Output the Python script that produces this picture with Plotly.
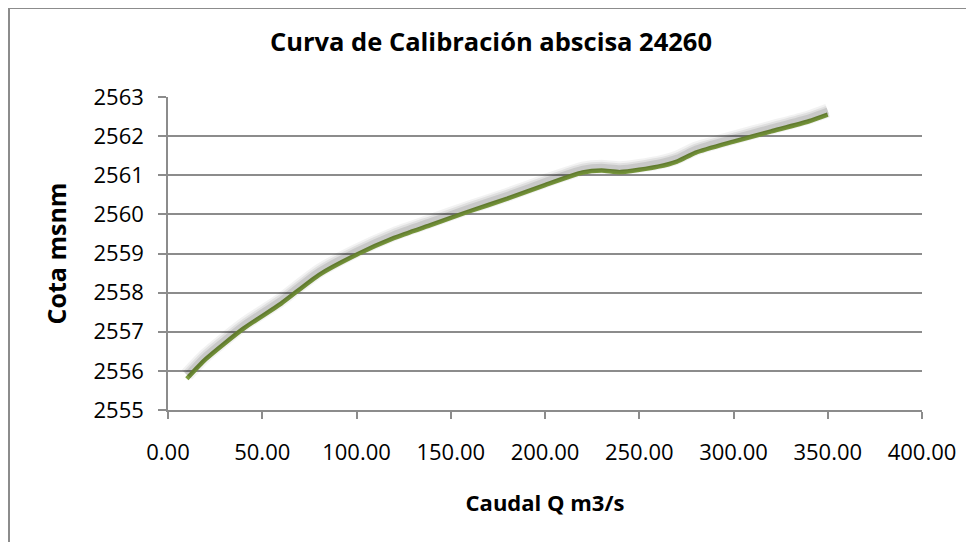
import plotly.graph_objects as go

caudal_q = [10, 20, 40, 60, 80, 100, 120, 140, 160, 180, 200, 220, 230, 240, 260, 270, 280, 300, 320, 340, 350]
cota = [2555.80, 2556.30, 2557.08, 2557.72, 2558.45, 2558.97, 2559.40, 2559.74, 2560.08, 2560.40,
        2560.75, 2561.07, 2561.12, 2561.08, 2561.22, 2561.35, 2561.58, 2561.86, 2562.12, 2562.38, 2562.55]

x_ticks = [0, 50, 100, 150, 200, 250, 300, 350, 400]
x_tick_labels = ["0.00", "50.00", "100.00", "150.00", "200.00", "250.00", "300.00", "350.00", "400.00"]
y_ticks = [2555, 2556, 2557, 2558, 2559, 2560, 2561, 2562, 2563]

FONT = "Open Sans"
GRID = "#8c8c8c"
LINE = "#7D9D3E"

W, H = 966, 534
L, T, PW, PH = 160, 89, 754, 313

fig = go.Figure()

# soft shadow drawn on an overlaid axis shifted slightly so it sits above the line
for w, a in [(14, 0.05), (10, 0.07), (6, 0.10)]:
    fig.add_trace(go.Scatter(
        x=caudal_q, y=cota, mode="lines", yaxis="y2",
        line=dict(color=f"rgba(0,0,0,{a})", width=w, shape="spline", smoothing=0.6),
        hoverinfo="skip", showlegend=False))

fig.add_trace(go.Scatter(
    x=caudal_q, y=cota, mode="lines",
    line=dict(color=LINE, width=4.5, shape="spline", smoothing=0.6),
    showlegend=False))

shift = 0.1
fig.update_layout(
    width=W, height=H,
    margin=dict(l=L, r=W - L - PW, t=T, b=H - T - PH),
    paper_bgcolor="white", plot_bgcolor="white",
    font=dict(family=FONT, color="black"),
    title=dict(text="<b>Curva de Calibración abscisa 24260</b>",
               font=dict(family=FONT, size=25.5, color="black"),
               x=0.5, xref="container", xanchor="center",
               y=1 - 34 / H, yref="container", yanchor="middle"),
    xaxis=dict(range=[0, 400], tickvals=x_ticks, ticktext=x_tick_labels,
               showgrid=False, zeroline=False,
               showline=True, linecolor=GRID, linewidth=1.5,
               ticks="outside", ticklen=7, tickcolor=GRID, tickwidth=1.5,
               ticklabelstandoff=15,
               tickfont=dict(family=FONT, size=22, color="black"),
               title=dict(text="<b>Caudal Q m3/s</b>", standoff=30,
                          font=dict(family=FONT, size=22, color="black"))),
    yaxis=dict(range=[2555, 2563], tickvals=y_ticks,
               showgrid=True, gridcolor=GRID, gridwidth=1.5, zeroline=False,
               showline=True, linecolor=GRID, linewidth=1.5,
               ticks="outside", ticklen=8, tickcolor=GRID, tickwidth=1.5,
               ticklabelstandoff=10,
               tickfont=dict(family=FONT, size=22, color="black"),
               title=dict(text="<b>Cota msnm</b>", standoff=20,
                          font=dict(family=FONT, size=25, color="black"))),
    yaxis2=dict(range=[2555 - shift, 2563 - shift], overlaying="y", visible=False),
    shapes=[dict(type="rect", xref="paper", yref="paper",
                 x0=(1 - L) / PW, x1=1.5, y0=-1.0, y1=(T + PH - 0) / PH,
                 line=dict(color=GRID, width=2), fillcolor="rgba(0,0,0,0)", layer="below")],
)

fig.write_html("out.html")
